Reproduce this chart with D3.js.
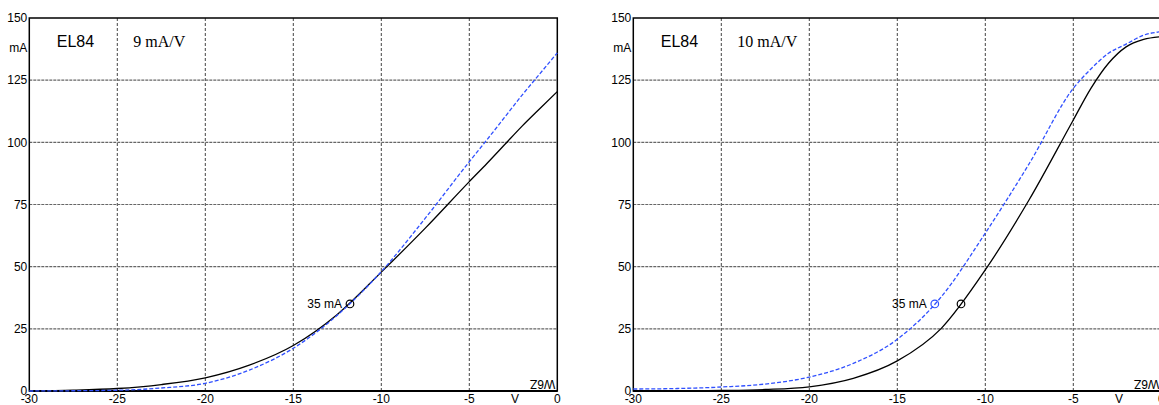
<!DOCTYPE html>
<html lang="en">
<head>
    <meta charset="UTF-8">
    <title>EL84 transfer curves</title>
    <script src="https://d3js.org/d3.v7.min.js"></script>
    <style>
        body { margin: 0; background: #fff; font-family: "Liberation Sans", Arial, sans-serif; }
        .tick-label { font-size: 12px; fill: #000; }
        .tube { font-size: 16px; fill: #000; }
        .slope { font-family: "Liberation Serif", "Times New Roman", serif; font-size: 16px; fill: #000; }
    </style>
</head>
<body>
<div id="chart"></div>
<script>
    // grid voltage (V) where currents were read
    const vg = [-30, -27.5, -25, -22.5, -20, -17.5, -15, -12.5, -10, -7.5, -5, -4, -3, -2, -1, 0];

    // left panel, 9 mA/V
    const leftBlack = [0, 0.3, 1.0, 2.6, 5.3, 10.4, 18.3, 30.8, 47.8, 65.5, 84.2, 91.5, 99, 106.5, 113.5, 120.4];
    const leftBlue  = [0, 0.1, 0.3, 1.2, 3.1, 8.4, 17.2, 30.5, 48.0, 69.5, 92.2, 101, 110, 119, 127.5, 136];

    // right panel, 10 mA/V
    const rightBlack = [0, 0.05, 0.2, 0.6, 1.7, 5.1, 12.1, 25.2, 48.7, 77, 109, 121.7, 131.8, 138.4, 141.4, 142.5];
    const rightBlue  = [0.8, 1.0, 1.6, 2.8, 5.6, 11.1, 20.8, 37.9, 63.5, 91.5, 121.7, 129.5, 135.8, 139.5, 143.1, 144.5];

    const xTicks = [-30, -25, -20, -15, -10, -5, 0];
    const yTicks = [0, 25, 50, 75, 100, 125, 150];

    // operating points at 35 mA
    const leftPoints = [{ v: -11.78, i: 35, c: "black" }];
    const rightPoints = [{ v: -12.87, i: 35, c: "blue" }, { v: -11.38, i: 35, c: "black" }];

    const width = 1159, height = 405;
    const blue = "#3050ff";

    const svg = d3.select("#chart").append("svg")
        .attr("width", width)
        .attr("height", height);

    const panels = [
        { x0: 29.3, slope: "9 mA/V", black: leftBlack, blue: leftBlue, points: leftPoints, label: leftPoints[0] },
        { x0: 633.3, slope: "10 mA/V", black: rightBlack, blue: rightBlue, points: rightPoints, label: rightPoints[0] }
    ];

    const y = d3.scaleLinear().domain([0, 150]).range([391, 18]);

    panels.forEach(p => {
        const x = d3.scaleLinear().domain([-30, 0]).range([p.x0, p.x0 + 528]);
        const g = svg.append("g");

        // grid
        g.selectAll(".vgrid").data(xTicks.slice(1, -1)).enter().append("line")
            .attr("x1", d => x(d)).attr("x2", d => x(d))
            .attr("y1", y(150)).attr("y2", y(0))
            .attr("stroke", "#444").attr("stroke-width", 1)
            .attr("stroke-dasharray", "3,2");
        g.selectAll(".hgrid").data(yTicks.slice(1, -1)).enter().append("line")
            .attr("x1", x(-30)).attr("x2", x(0))
            .attr("y1", d => y(d)).attr("y2", d => y(d))
            .attr("stroke", "#666").attr("stroke-width", 1.2)
            .attr("stroke-dasharray", "3,1");

        // frame
        g.append("rect")
            .attr("x", x(-30)).attr("y", y(150))
            .attr("width", x(0) - x(-30)).attr("height", y(0) - y(150))
            .attr("fill", "none").attr("stroke", "#000").attr("stroke-width", 1.5);
        g.append("line")
            .attr("x1", x(-30)).attr("x2", x(0))
            .attr("y1", y(0)).attr("y2", y(0))
            .attr("stroke", "#000").attr("stroke-width", 2);

        // tick labels
        g.selectAll(".ylab").data(yTicks).enter().append("text")
            .attr("class", "tick-label")
            .attr("x", x(-30) - 2).attr("y", d => y(d))
            .attr("dy", "0.35em")
            .attr("text-anchor", "end")
            .text(d => d);
        g.append("text").attr("class", "tick-label")
            .attr("x", x(-30) - 2).attr("y", 48).attr("dy", "0.35em")
            .attr("text-anchor", "end").text("mA");
        g.selectAll(".xlab").data(xTicks).enter().append("text")
            .attr("class", "tick-label")
            .attr("x", d => x(d)).attr("y", 403)
            .attr("text-anchor", "middle")
            .text(d => d);
        g.append("text").attr("class", "tick-label")
            .attr("x", x(-2.4)).attr("y", 403)
            .attr("text-anchor", "middle").text("V");

        // titles
        g.append("text").attr("class", "tube")
            .attr("x", x(-30) + 27.5).attr("y", 47).text("EL84");
        g.append("text").attr("class", "slope")
            .attr("x", x(-30) + 104).attr("y", 47).text(p.slope);

        // curves
        const line = d3.line()
            .x((d, i) => x(vg[i]))
            .y(d => y(d))
            .curve(d3.curveMonotoneX);
        g.append("path").datum(p.black)
            .attr("d", line)
            .attr("fill", "none").attr("stroke", "#000").attr("stroke-width", 1.3);
        g.append("path").datum(p.blue)
            .attr("d", line)
            .attr("fill", "none").attr("stroke", blue).attr("stroke-width", 1.3)
            .attr("stroke-dasharray", "4,2");

        // operating points
        g.selectAll(".pt").data(p.points).enter().append("circle")
            .attr("cx", d => x(d.v)).attr("cy", d => y(d.i))
            .attr("r", 3.8)
            .attr("fill", "none")
            .attr("stroke", d => d.c === "blue" ? blue : "#000")
            .attr("stroke-width", 1.2);
        g.append("text").attr("class", "tick-label")
            .attr("x", x(p.label.v) - 8).attr("y", y(p.label.i) + 4)
            .attr("text-anchor", "end")
            .text(p.label.i + " mA");

        // upside-down mark in the corner
        g.append("text")
            .attr("transform", `translate(${x(0) - 2},${y(0) - 11}) rotate(180)`)
            .attr("font-size", 12)
            .attr("fill", "#000")
            .text("W6Z");
    });
</script>
</body>
</html>
